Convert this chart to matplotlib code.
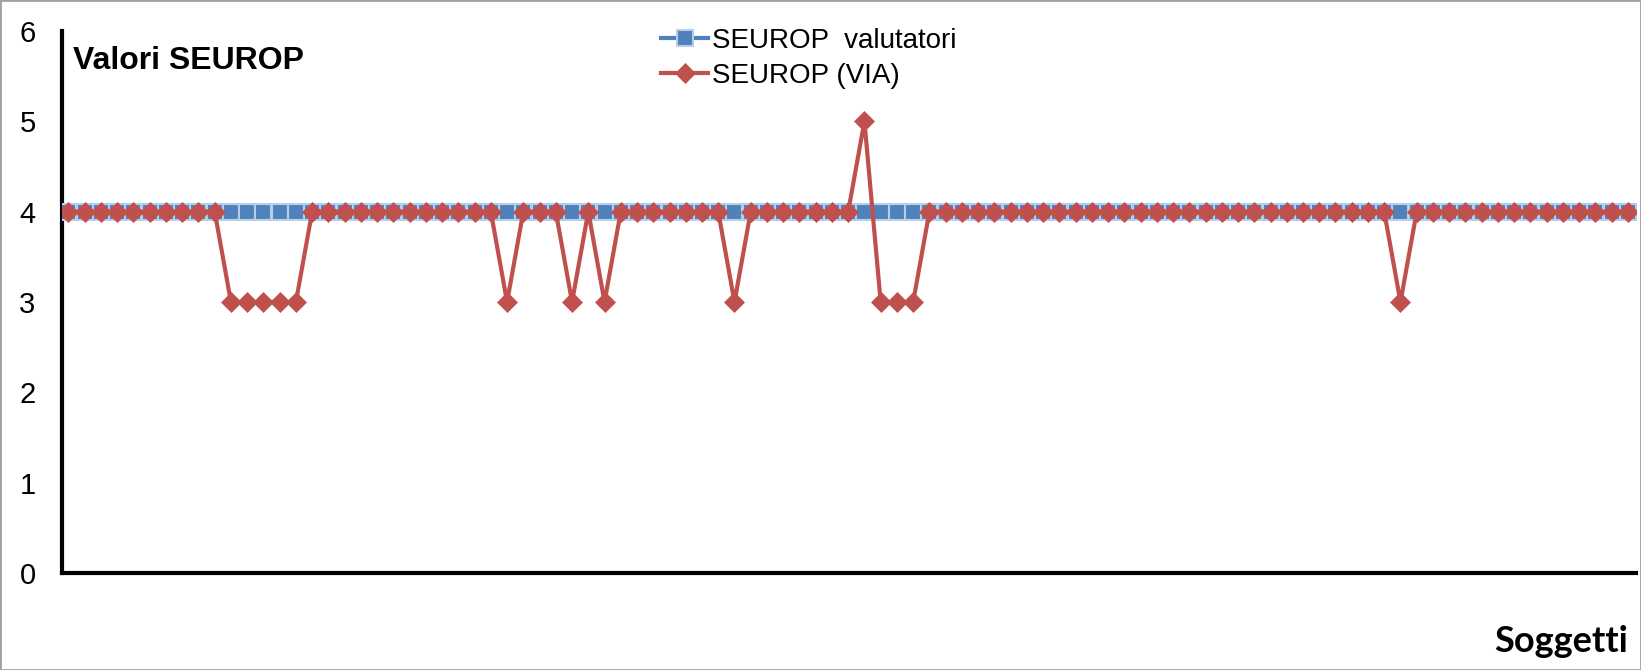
#=================================================================================================================================
import matplotlib
matplotlib.use('Agg')
import matplotlib.pyplot as plt
from matplotlib.patches import Rectangle
#=================================================================================================================================
# SEUROP scores per subject: the raters gave 4 to everyone, the VIA system differs on a few subjects.
n_subjects = 97
seurop_valutatori = [4] * n_subjects
seurop_via = [4] * n_subjects
for i in [10, 11, 12, 13, 14, 27, 31, 33, 41, 50, 51, 52, 82]:
    seurop_via[i] = 3
seurop_via[49] = 5
subjects = list(range(n_subjects))

y_ticks = [0, 1, 2, 3, 4, 5, 6]
label_blue = 'SEUROP  valutatori'
label_red = 'SEUROP (VIA)'
#=================================================================================================================================
plt.rcParams['font.family'] = ['Liberation Sans', 'DejaVu Sans']

fig = plt.figure(figsize=(16.41, 6.70), dpi=100)
ax = fig.add_axes([62 / 1641, 1 - 573 / 670, (1636 - 62) / 1641, (573 - 31) / 670])

blue = '#4F81BD'
red = '#C0504D'

ax.plot(subjects, seurop_valutatori, color=blue, lw=3, marker='s', ms=11.5,
        mfc=blue, mec='#B9CDE5', mew=1.5, label=label_blue, zorder=3)
ax.plot(subjects, seurop_via, color=red, lw=3, marker='D', ms=10,
        mfc=red, mec=red, mew=0.5, label=label_red, zorder=4)

ax.set_xlim(-0.4, 96.5)
ax.set_ylim(0, 6)
ax.set_yticks(y_ticks)
ax.set_xticks([])
ax.tick_params(axis='y', length=0, pad=19, labelsize=21)

for side in ['top', 'right']:
    ax.spines[side].set_visible(False)
for side in ['left', 'bottom']:
    ax.spines[side].set_linewidth(3)
    ax.spines[side].set_color('black')

leg = ax.legend(loc='upper left', bbox_to_anchor=(661 / 1641, 1 - 28 / 670), bbox_transform=fig.transFigure,
                frameon=False, fontsize=20, handlelength=1.7, handletextpad=0.15,
                labelspacing=0.32, borderpad=0, borderaxespad=0)

# Axis titles placed like in the spreadsheet chart
fig.text(73 / 1641, 1 - 61 / 670, 'Valori SEUROP', fontsize=23, fontweight='bold', va='center', ha='left')
fig.text(1628 / 1641, 1 - 641 / 670, 'Soggetti', fontsize=26, fontweight='bold', va='center', ha='right',
         family=['Lato', 'DejaVu Sans'])

# thin grey frame around the whole chart
fig.patches.append(Rectangle((0, 0), 1, 1, transform=fig.transFigure, fill=False,
                             edgecolor='#A0A0A0', lw=2))

fig.savefig('out.png', dpi=100)
#=================================================================================================================================
